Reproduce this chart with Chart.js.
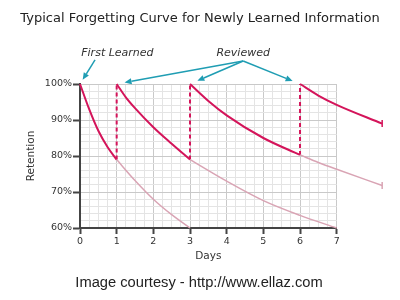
<!DOCTYPE html>
<html>
<head>
<meta charset="utf-8">
<script src="https://cdn.jsdelivr.net/npm/chart.js@4/dist/chart.umd.min.js"></script>
<style>
  html, body { margin: 0; padding: 0; background: #fff; }
  #wrap { width: 400px; height: 300px; position: relative; }
</style>
</head>
<body>
<div id="wrap"><canvas id="chart"></canvas></div>
<script>
// texte
const titleText = 'Typical Forgetting Curve for Newly Learned Information';
const footerText = 'Image courtesy - http://www.ellaz.com';

// retention curves (days, % retained)
const firstDays = [0, 0.25, 0.5, 0.75, 1];
const firstVals = [100, 93, 87, 82.5, 79];
const firstFadeDays = [1, 1.5, 2, 2.5, 3];
const firstFadeVals = [79, 73.2, 68, 63.7, 60];

const secondDays = [1, 1.25, 1.5, 2, 2.5, 3];
const secondVals = [100, 96.3, 93.3, 88, 83.4, 79];
const secondFadeDays = [3, 4, 5, 6, 7];
const secondFadeVals = [79, 73, 67.6, 63.5, 60];

const thirdDays = [3, 3.5, 4, 5, 6];
const thirdVals = [100, 95.3, 91.3, 85, 80.3];
const thirdFadeDays = [6, 6.5, 7, 8.24];
const thirdFadeVals = [80.3, 78.2, 76.3, 71.8];

const fourthDays = [6, 6.5, 7, 8.24];
const fourthVals = [100, 96.8, 94.2, 89];

// review moments: day, retention just before review
const reviewDays = [1, 3, 6];
const reviewLow = [79, 79, 80.3];

const DARK = '#d4145a';
const LIGHT = '#d9a4b4';
const TEAL = '#1f9db3';

const pts = (xs, ys) => xs.map((x, i) => ({ x: x, y: ys[i] }));

function curve(xs, ys, color, width, tail) {
  const lastX = Math.max(...xs);
  // courbes qui depassent l'axe : points en ordre inverse pour que Chart.js
  // ne coupe pas la partie au-dela de x = 7 (clip: false)
  const data = tail ? pts(xs, ys).reverse() : pts(xs, ys);
  return {
    data: data,
    tail: tail,
    borderColor: color,
    backgroundColor: color,
    borderWidth: width,
    cubicInterpolationMode: 'monotone',
    fill: false,
    clip: false,
    pointStyle: 'line',
    rotation: 90,
    pointBorderWidth: 1.5,
    pointRadius: ctx => (tail && ctx.raw && ctx.raw.x === lastX) ? 3.5 : 0
  };
}

const datasets = [
  curve(firstFadeDays, firstFadeVals, LIGHT, 1.5, false),
  curve(secondFadeDays, secondFadeVals, LIGHT, 1.5, false),
  curve(thirdFadeDays, thirdFadeVals, LIGHT, 1.5, true),
  curve(firstDays, firstVals, DARK, 2, false),
  curve(secondDays, secondVals, DARK, 2, false),
  curve(thirdDays, thirdVals, DARK, 2, false),
  curve(fourthDays, fourthVals, DARK, 2, true)
];
reviewDays.forEach((d, i) => {
  datasets.push({
    data: [{ x: d, y: reviewLow[i] }, { x: d, y: 100 }],
    borderColor: DARK,
    borderWidth: 2,
    borderDash: [4, 3],
    pointRadius: 0,
    clip: false
  });
});

function arrow(ctx, x0, y0, x1, y1, shorten) {
  const a = Math.atan2(y1 - y0, x1 - x0);
  const ex = x1 - Math.cos(a) * shorten;
  const ey = y1 - Math.sin(a) * shorten;
  const hl = 7, hw = 3;
  const bx = ex - Math.cos(a) * hl, by = ey - Math.sin(a) * hl;
  ctx.beginPath();
  ctx.moveTo(x0, y0);
  ctx.lineTo(bx, by);
  ctx.stroke();
  ctx.beginPath();
  ctx.moveTo(ex, ey);
  ctx.lineTo(bx - Math.sin(a) * hw, by + Math.cos(a) * hw);
  ctx.lineTo(bx + Math.sin(a) * hw, by - Math.cos(a) * hw);
  ctx.closePath();
  ctx.fill();
}

// les points hors de la zone du graphe ne sont pas dessines par Chart.js :
// on redessine le point final des courbes qui depassent
const tailMarks = {
  id: 'tailMarks',
  afterDatasetsDraw(chart) {
    chart.data.datasets.forEach((ds, i) => {
      if (!ds.tail) return;
      const meta = chart.getDatasetMeta(i);
      let best = null;
      meta.data.forEach((el, j) => {
        if (!best || meta._parsed[j].x > best.x) best = { el: el, x: meta._parsed[j].x };
      });
      if (best) best.el.draw(chart.ctx);
    });
  }
};

// titre, source et fleches "First Learned" / "Reviewed"
const annotations = {
  id: 'annotations',
  afterDraw(chart) {
    const { ctx, scales: { x, y } } = chart;
    ctx.save();
    ctx.textAlign = 'center';
    ctx.textBaseline = 'middle';
    ctx.fillStyle = '#222';
    ctx.font = '13px "DejaVu Sans"';
    ctx.fillText(titleText, 200, 19);
    ctx.font = '14.7px "Liberation Sans"';
    ctx.fillText(footerText, 199, 283);

    ctx.fillStyle = '#333';
    ctx.font = 'italic 11px "DejaVu Sans"';
    ctx.fillText('First Learned', x.getPixelForValue(1.02), y.getPixelForValue(108.7));
    ctx.fillText('Reviewed', x.getPixelForValue(4.45), y.getPixelForValue(108.7));

    ctx.strokeStyle = TEAL;
    ctx.fillStyle = TEAL;
    ctx.lineWidth = 1.5;
    arrow(ctx, x.getPixelForValue(0.41), y.getPixelForValue(106.7),
          x.getPixelForValue(firstDays[0]), y.getPixelForValue(firstVals[0]), 5);
    reviewDays.forEach(d => {
      arrow(ctx, x.getPixelForValue(4.45), y.getPixelForValue(106.4),
            x.getPixelForValue(d), y.getPixelForValue(100), 8);
    });
    ctx.restore();
  }
};

const isMajorX = v => Math.abs(v - Math.round(v)) < 1e-6;
const isMajorY = v => Math.abs(v % 10) < 1e-6;

new Chart(document.getElementById('chart'), {
  type: 'line',
  data: { datasets: datasets },
  plugins: [tailMarks, annotations],
  options: {
    responsive: true,
    maintainAspectRatio: false,
    animation: false,
    layout: { padding: { top: 84, bottom: 26, right: 63.3, left: 0 } },
    plugins: { legend: { display: false }, tooltip: { enabled: false } },
    scales: {
      x: {
        type: 'linear',
        min: 0, max: 7,
        afterFit: s => { s.height = 46; },
        border: { color: '#444', width: 2 },
        grid: {
          color: c => isMajorX(c.tick.value) ? '#c9c9c9' : '#e4e4e4',
          tickColor: c => isMajorX(c.tick.value) ? '#444' : 'rgba(0,0,0,0)',
          tickWidth: 2,
          tickLength: 6
        },
        ticks: {
          stepSize: 0.25,
          autoSkip: false,
          maxRotation: 0,
          padding: 2,
          color: '#333',
          font: { family: 'DejaVu Sans', size: 9.5 },
          callback: v => isMajorX(v) ? String(Math.round(v)) : ''
        },
        title: {
          display: true,
          text: 'Days',
          color: '#333',
          font: { family: 'DejaVu Sans', size: 10.5 },
          padding: { top: 0, bottom: 11 }
        }
      },
      y: {
        min: 60, max: 100,
        afterFit: s => { s.width = 80; },
        border: { color: '#444', width: 2 },
        grid: {
          color: c => isMajorY(c.tick.value) ? '#c9c9c9' : '#e4e4e4',
          tickColor: c => isMajorY(c.tick.value) ? '#444' : 'rgba(0,0,0,0)',
          tickWidth: 2,
          tickLength: 7
        },
        ticks: {
          stepSize: 2,
          autoSkip: false,
          padding: 1,
          color: '#333',
          font: { family: 'DejaVu Sans', size: 9.5 },
          callback: v => isMajorY(v) ? v + '%' : ''
        },
        title: {
          display: true,
          text: 'Retention',
          color: '#333',
          font: { family: 'DejaVu Sans', size: 10.5 },
          padding: { top: 24.7, bottom: 0 }
        }
      }
    }
  }
});
</script>
</body>
</html>
